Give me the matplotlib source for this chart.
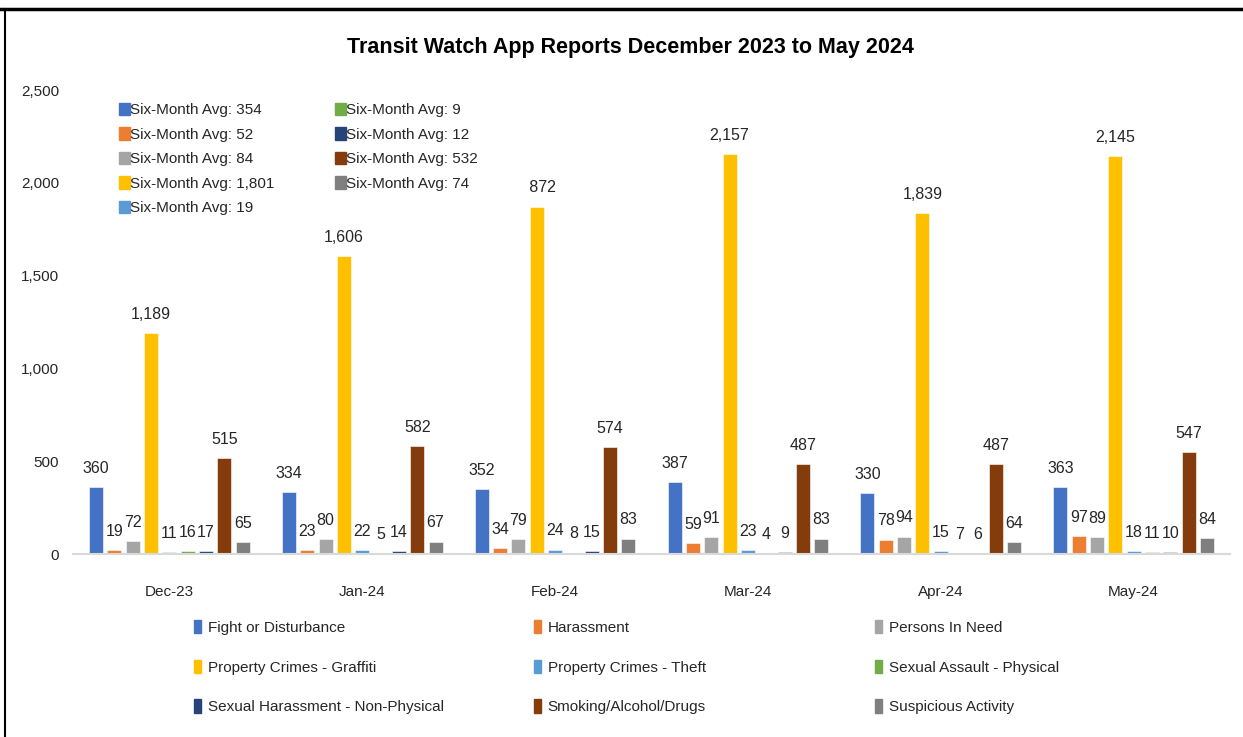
import matplotlib.pyplot as plt
import matplotlib.patches as patches
from matplotlib.lines import Line2D
import numpy as np

plt.rcParams['font.family'] = ['Liberation Sans', 'DejaVu Sans']

# Data
months = ["Dec-23", "Jan-24", "Feb-24", "Mar-24", "Apr-24", "May-24"]
categories = ["Fight or Disturbance", "Harassment", "Persons In Need",
              "Property Crimes - Graffiti", "Property Crimes - Theft",
              "Sexual Assault - Physical", "Sexual Harassment - Non-Physical",
              "Smoking/Alcohol/Drugs", "Suspicious Activity"]
fight = [360, 334, 352, 387, 330, 363]
harassment = [19, 23, 34, 59, 78, 97]
persons_in_need = [72, 80, 79, 91, 94, 89]
graffiti = [1189, 1606, 1872, 2157, 1839, 2145]
theft = [11, 22, 24, 23, 15, 18]
sexual_assault = [16, 5, 8, 4, 7, 11]
sexual_harassment = [17, 14, 15, 9, 6, 10]
smoking = [515, 582, 574, 487, 487, 547]
suspicious = [65, 67, 83, 83, 64, 84]
series = [fight, harassment, persons_in_need, graffiti, theft,
          sexual_assault, sexual_harassment, smoking, suspicious]

colors = ["#4472C4", "#ED7D31", "#A5A5A5", "#FFC000", "#5B9BD5",
          "#70AD47", "#264478", "#843C0C", "#7F7F7F"]

W, H = 1243, 737
fig = plt.figure(figsize=(W / 100, H / 100), dpi=100)
ax = fig.add_axes([73 / W, 1 - 554 / H, (1230 - 73) / W, (554 - 90) / H])

x = np.arange(len(months))
step = 0.095
width = 0.0725
for i, (vals, col) in enumerate(zip(series, colors)):
    pos = x + (i - 4) * step
    ax.bar(pos, vals, width, color=col, edgecolor="white", linewidth=0.4, zorder=2)
    for px, v in zip(pos, vals):
        ax.annotate(f"{v:,}", (px, v), xytext=(0, 8), textcoords="offset points",
                    ha="center", va="bottom", fontsize=11.5, color="#262626", zorder=3)

ax.set_xlim(-0.5, len(months) - 0.5)
ax.set_ylim(0, 2500)
ax.set_yticks(np.arange(0, 2501, 500))
ax.set_yticklabels([f"{t:,}" for t in range(0, 2501, 500)])
ax.set_xticks(x)
ax.set_xticklabels(months)
ax.tick_params(axis="both", length=0, labelsize=11, labelcolor="#262626")
ax.tick_params(axis="x", pad=22)
ax.tick_params(axis="y", pad=10)
for s in ["top", "right", "left"]:
    ax.spines[s].set_visible(False)
ax.spines["bottom"].set_color("#D9D9D9")
ax.spines["bottom"].set_linewidth(1.5)

fig.text(630 / W, 1 - 47 / H, "Transit Watch App Reports December 2023 to May 2024",
         ha="center", va="center", fontsize=15.5, fontweight="bold", color="black")

# Six-month average legend (top left)
avg_handles = [patches.Patch(color=c) for c in colors]
avg_labels = [f"Six-Month Avg: {int(np.floor(np.mean(v) + 0.5)):,}" for v in series]
fig.add_artist(patches.Rectangle((112 / W, 1 - 222 / H), (528 - 112) / W, (222 - 97) / H,
                                 transform=fig.transFigure, facecolor="white",
                                 edgecolor="none", zorder=1))
for cols, x0 in [(range(0, 5), 119), (range(5, 9), 335)]:
    fig.legend([avg_handles[k] for k in cols], [avg_labels[k] for k in cols],
               loc="upper left", bbox_to_anchor=(x0 / W, 1 - 103 / H), frameon=False,
               fontsize=11, handlelength=0.75, handleheight=0.85, handletextpad=0.0,
               labelspacing=0.66, borderpad=0, borderaxespad=0,
               labelcolor="#262626")

# Series legend (bottom)
bar_handles = [patches.Patch(color=c) for c in colors]
for j, x0 in enumerate([194, 534, 875]):
    idx = [j, j + 3, j + 6]
    fig.legend([bar_handles[k] for k in idx], [categories[k] for k in idx],
               loc="upper left", bbox_to_anchor=(x0 / W, 1 - 620 / H), frameon=False,
               fontsize=11, handlelength=0.45, handleheight=0.95, handletextpad=0.45,
               labelspacing=1.63, borderpad=0, borderaxespad=0,
               labelcolor="#262626")

# Outer frame lines
fig.add_artist(Line2D([0, 1], [1 - 9 / H, 1 - 9 / H], transform=fig.transFigure,
                      color="black", linewidth=2.5))
fig.add_artist(Line2D([5 / W, 5 / W], [0, 1 - 9 / H], transform=fig.transFigure,
                      color="black", linewidth=1.5))

fig.savefig("out.png", dpi=100)
